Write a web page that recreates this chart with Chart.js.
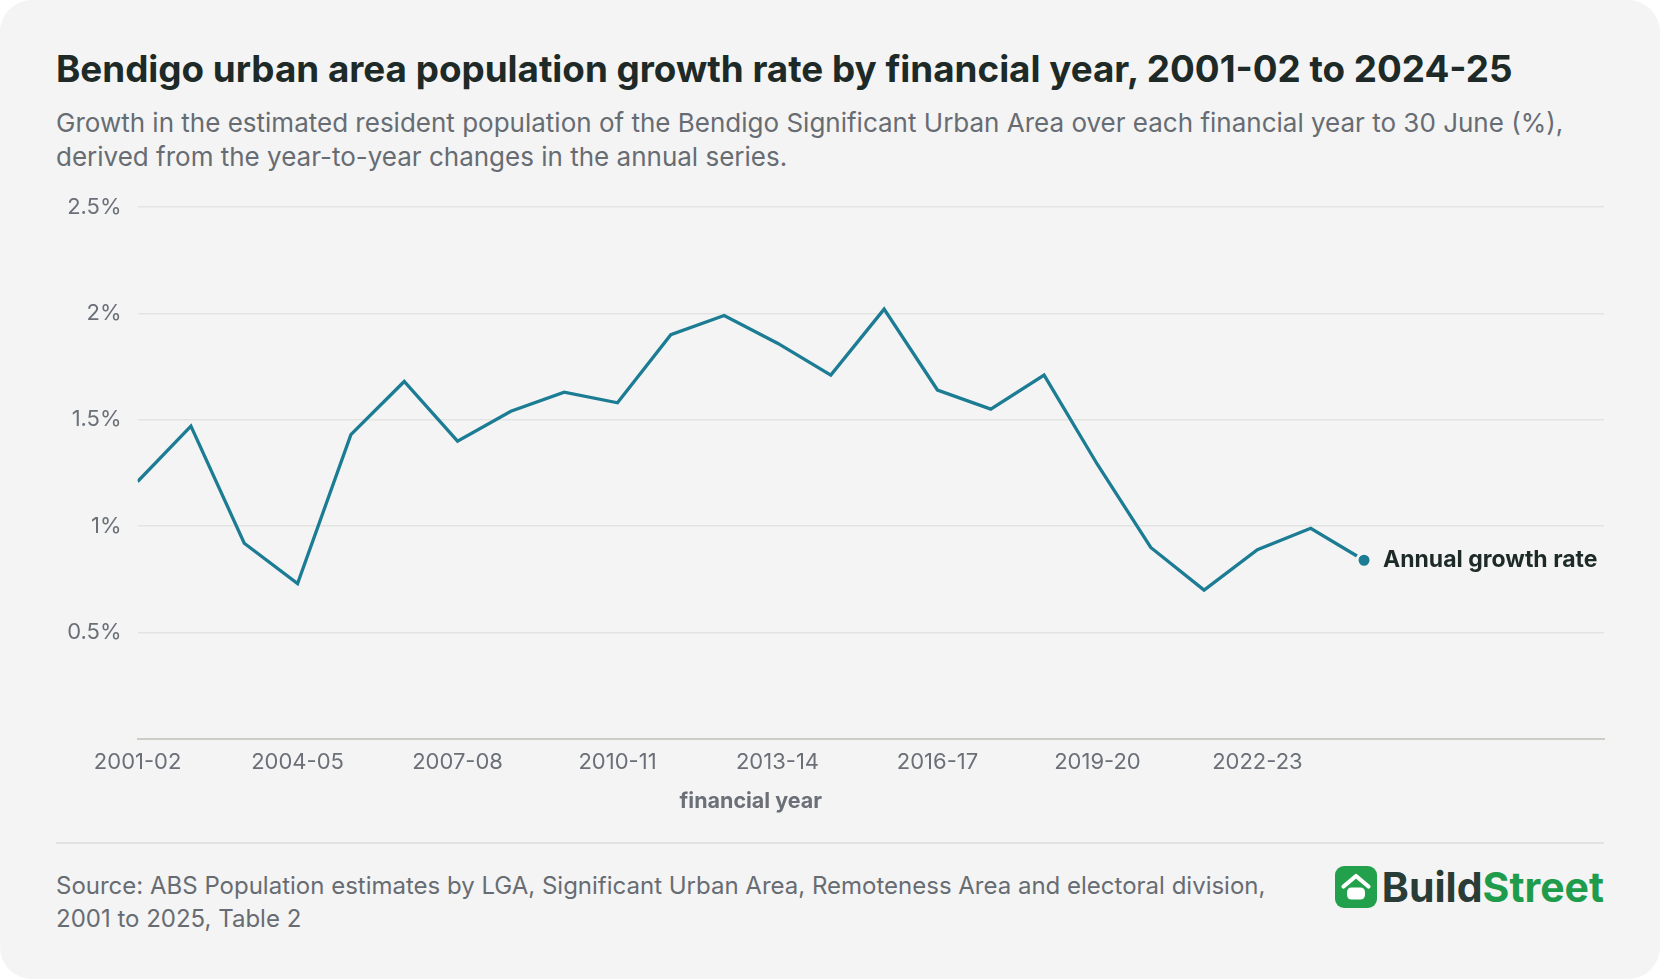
<!DOCTYPE html>
<html lang="en">
<head>
    <meta charset="UTF-8">
    <title>Bendigo urban area population growth rate</title>
    <script src="https://cdn.jsdelivr.net/npm/chart.js"></script>
    <style>
        html, body {
            margin: 0;
            background: #ffffff;
            font-family: 'Inter', 'Noto Sans', sans-serif;
        }
        #card {
            position: relative;
            width: 1660px;
            height: 979px;
            background: #f4f4f4;
            border-radius: 32px;
            overflow: hidden;
        }
        #title {
            position: absolute;
            left: 56px;
            top: 47px;
            font-size: 36.8px;
            line-height: 44px;
            font-weight: 700;
            color: #1d2a27;
            white-space: nowrap;
        }
        #subtitle {
            position: absolute;
            left: 56px;
            top: 106px;
            font-size: 26px;
            line-height: 34px;
            color: #676c73;
            white-space: nowrap;
        }
        #chartBox {
            position: absolute;
            left: 40px;
            top: 167px;
            width: 1584px;
            height: 652px;
        }
        #rule {
            position: absolute;
            left: 56px;
            right: 56px;
            top: 842px;
            height: 2px;
            background: #e2e2e0;
        }
        #source {
            position: absolute;
            left: 56px;
            top: 869px;
            font-size: 24px;
            line-height: 33px;
            color: #676c73;
            white-space: nowrap;
        }
        #logo {
            position: absolute;
            right: 56px;
            top: 866px;
            height: 42px;
            display: flex;
            align-items: center;
            gap: 5px;
        }
        #logo div {
            font-size: 41px;
            line-height: 42px;
            font-weight: 700;
        }
    </style>
</head>
<body>
<div id="card">
    <div id="title">Bendigo urban area population growth rate by financial year, 2001-02 to 2024-25</div>
    <div id="subtitle">Growth in the estimated resident population of the Bendigo Significant Urban Area over each financial year to 30 June (%),<br>derived from the year-to-year changes in the annual series.</div>
    <div id="chartBox"><canvas id="growthChart"></canvas></div>
    <div id="rule"></div>
    <div id="source">Source: ABS Population estimates by LGA, Significant Urban Area, Remoteness Area and electoral division,<br>2001 to 2025, Table 2</div>
    <div id="logo">
        <svg width="42" height="42" viewBox="0 0 42 42">
            <rect x="0" y="0" width="42" height="42" rx="9" fill="#22a04b"/>
            <polyline points="8.5,20.5 21,10 33.5,20.5" fill="none" stroke="#ffffff" stroke-width="4.2" stroke-linecap="round" stroke-linejoin="round"/>
            <rect x="12" y="21.5" width="18" height="12" rx="4.5" fill="#ffffff"/>
        </svg>
        <div><span style="color:#2a3c36">Build</span><span style="color:#1f9c4b">Street</span></div>
    </div>
</div>

<script>
    // financial years (x categories)
    const anos = ['2001-02', '2002-03', '2003-04', '2004-05', '2005-06', '2006-07', '2007-08', '2008-09',
        '2009-10', '2010-11', '2011-12', '2012-13', '2013-14', '2014-15', '2015-16', '2016-17',
        '2017-18', '2018-19', '2019-20', '2020-21', '2021-22', '2022-23', '2023-24', '2024-25'];

    // annual growth rate (%)
    const crescimento = [1.21, 1.47, 0.92, 0.73, 1.43, 1.68, 1.40, 1.54, 1.63, 1.58, 1.90, 1.99,
        1.86, 1.71, 2.02, 1.64, 1.55, 1.71, 1.29, 0.90, 0.70, 0.89, 0.99, 0.84];

    const nomeSerie = 'Annual growth rate';
    const tituloEixoX = 'financial year';

    const corLinha = '#1b7c94';
    const corFundo = '#f4f4f4';
    const cinza = '#6b7078';

    const pontos = crescimento.map((v, i) => ({ x: i, y: v }));

    // draws the end label and the x axis title (centred on the data span)
    const rotulos = {
        id: 'rotulos',
        afterDatasetsDraw(chart) {
            const c = chart.ctx;
            const meta = chart.getDatasetMeta(0);
            const ultimo = meta.data[meta.data.length - 1];
            c.save();
            c.font = '700 23px Inter, sans-serif';
            c.fillStyle = '#1d2a27';
            c.textAlign = 'left';
            c.textBaseline = 'middle';
            c.fillText(nomeSerie, ultimo.x + 19, ultimo.y);

            const xs = chart.scales.x;
            const meio = (xs.getPixelForValue(0) + xs.getPixelForValue(anos.length - 1)) / 2;
            c.font = '700 21.5px Inter, sans-serif';
            c.fillStyle = cinza;
            c.textAlign = 'center';
            c.fillText(tituloEixoX, meio, chart.chartArea.bottom + 63);
            c.restore();
        }
    };

    const ctx = document.getElementById('growthChart').getContext('2d');
    const chart = new Chart(ctx, {
        type: 'line',
        data: {
            datasets: [{
                label: nomeSerie,
                data: pontos,
                borderColor: corLinha,
                backgroundColor: corLinha,
                borderWidth: 3.3,
                tension: 0,
                pointRadius: c => c.dataIndex === crescimento.length - 1 ? 7 : 0,
                pointBorderColor: corFundo,
                pointBorderWidth: 3,
                pointBackgroundColor: corLinha,
                pointHoverRadius: 0
            }]
        },
        options: {
            responsive: true,
            maintainAspectRatio: false,
            animation: false,
            layout: { padding: { top: 40, right: 20, bottom: 0, left: 0 } },
            plugins: {
                legend: { display: false },
                title: { display: false },
                tooltip: { enabled: false }
            },
            scales: {
                x: {
                    type: 'linear',
                    min: 0,
                    max: 27.5,
                    grid: { display: false, drawTicks: false },
                    border: { display: true, color: '#cdcdc6', width: 2 },
                    ticks: {
                        stepSize: 3,
                        includeBounds: false,
                        maxRotation: 0,
                        autoSkip: false,
                        padding: 10,
                        color: cinza,
                        font: { family: 'Inter', size: 22 },
                        callback: v => anos[v] ?? ''
                    },
                    afterFit: s => { s.height = 80; }
                },
                y: {
                    min: 0,
                    max: 2.5,
                    grid: { color: '#e3e3e1', lineWidth: 1.5, drawTicks: false },
                    border: { display: false },
                    ticks: {
                        stepSize: 0.5,
                        padding: 16,
                        color: cinza,
                        font: { family: 'Inter', size: 22 },
                        callback: v => v === 0 ? '' : v + '%'
                    },
                    afterFit: s => { s.width = 97.6; }
                }
            }
        },
        plugins: [rotulos]
    });
</script>
</body>
</html>
